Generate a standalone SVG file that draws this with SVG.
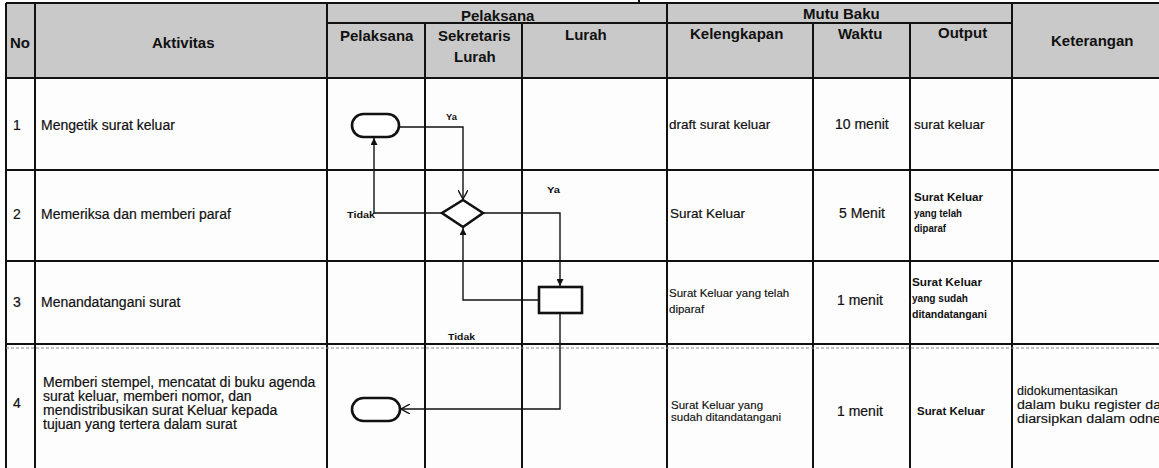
<svg xmlns="http://www.w3.org/2000/svg" width="1159" height="468" viewBox="0 0 1159 468">
  <style>
    .grid { stroke: #111; stroke-width: 2; fill: none; }
    .hd { font-family: "Liberation Sans", Arial, sans-serif; font-weight: bold; font-size: 15px; fill: #111; }
    .tx { font-family: "Liberation Sans", Arial, sans-serif; font-size: 14px; fill: #111; stroke: #111; stroke-width: 0.2; }
    .md { font-family: "Liberation Sans", Arial, sans-serif; font-size: 13.5px; fill: #111; stroke: #111; stroke-width: 0.2; }
    .sm { font-family: "Liberation Sans", Arial, sans-serif; font-size: 11.5px; fill: #111; stroke: #111; stroke-width: 0.15; }
    .ket { font-family: "Liberation Sans", Arial, sans-serif; font-size: 12.5px; fill: #111; stroke: #111; stroke-width: 0.15; }
    .out { font-family: "Liberation Sans", Arial, sans-serif; font-size: 11px; font-weight: bold; fill: #111; }
    .lbl { font-family: "Liberation Sans", Arial, sans-serif; font-size: 9.5px; font-weight: bold; fill: #111; }
    .shape { fill: #fff; stroke: #111; stroke-width: 2.6; }
    .conn { fill: none; stroke: #111; stroke-width: 1.4; }
  </style>
  <defs>
    <marker id="solid" viewBox="0 0 8 8" refX="8" refY="4" markerWidth="7" markerHeight="7" markerUnits="userSpaceOnUse" orient="auto">
      <path d="M0,0 L8,4 L0,8 Z" fill="#111"/>
    </marker>
    <marker id="open" viewBox="0 0 10 10" refX="9" refY="5" markerWidth="10" markerHeight="10" markerUnits="userSpaceOnUse" orient="auto">
      <path d="M0,0 L9,5 L0,10" fill="none" stroke="#111" stroke-width="1.4"/>
    </marker>
  </defs>

  <!-- page -->
  <rect x="0" y="0" width="1159" height="468" fill="#fdfdfd"/>
  <!-- header band -->
  <rect x="6" y="3" width="1153" height="76" fill="#c9c9c9"/>

  <!-- table grid -->
  <g id="table" class="grid">
    <line x1="6" y1="3" x2="1159" y2="3"/>
    <line x1="327" y1="23" x2="1012" y2="23"/>
    <line x1="6" y1="78" x2="1159" y2="78"/>
    <line x1="6" y1="170" x2="1159" y2="170"/>
    <line x1="6" y1="261" x2="1159" y2="261"/>
    <line x1="6" y1="344" x2="1159" y2="344"/>
    <line x1="6" y1="3" x2="6" y2="468"/>
    <line x1="35" y1="3" x2="35" y2="468"/>
    <line x1="327" y1="3" x2="327" y2="468"/>
    <line x1="425" y1="23" x2="425" y2="468"/>
    <line x1="522" y1="23" x2="522" y2="468"/>
    <line x1="667" y1="3" x2="667" y2="468"/>
    <line x1="813" y1="23" x2="813" y2="468"/>
    <line x1="910" y1="23" x2="910" y2="468"/>
    <line x1="1012" y1="3" x2="1012" y2="468"/>
    <line x1="639" y1="0" x2="639" y2="3"/>
  </g>
  <line x1="6" y1="348" x2="1159" y2="348" stroke="#8a8a8a" stroke-width="1" stroke-dasharray="3 2"/>

  <!-- header labels -->
  <g id="header">
    <text class="hd" x="10" y="48">No</text>
    <text class="hd" x="152" y="48">Aktivitas</text>
    <text class="hd" x="461" y="21">Pelaksana</text>
    <text class="hd" x="340" y="41">Pelaksana</text>
    <text class="hd" x="438" y="41">Sekretaris</text>
    <text class="hd" x="454" y="62">Lurah</text>
    <text class="hd" x="565" y="40">Lurah</text>
    <text class="hd" x="803" y="19">Mutu Baku</text>
    <text class="hd" x="690" y="39">Kelengkapan</text>
    <text class="hd" x="838" y="39">Waktu</text>
    <text class="hd" x="938" y="38">Output</text>
    <text class="hd" x="1051" y="46">Keterangan</text>
  </g>

  <!-- row 1 -->
  <g id="row1">
    <text class="tx" x="13" y="130">1</text>
    <text class="tx" x="41" y="130">Mengetik  surat keluar</text>
    <text class="md" x="669" y="129">draft surat keluar</text>
    <text class="tx" x="835" y="129">10 menit</text>
    <text class="md" x="914" y="129">surat keluar</text>
  </g>

  <!-- row 2 -->
  <g id="row2">
    <text class="tx" x="13" y="219">2</text>
    <text class="tx" x="41" y="219">Memeriksa dan memberi paraf</text>
    <text class="md" x="670" y="218">Surat Keluar</text>
    <text class="tx" x="839" y="218">5 Menit</text>
    <text class="out" x="914" y="201" textLength="69" lengthAdjust="spacingAndGlyphs">Surat Keluar</text>
    <text class="out" x="914" y="217" textLength="48" lengthAdjust="spacingAndGlyphs">yang telah</text>
    <text class="out" x="914" y="232" textLength="32" lengthAdjust="spacingAndGlyphs">diparaf</text>
  </g>

  <!-- row 3 -->
  <g id="row3">
    <text class="tx" x="13" y="307">3</text>
    <text class="tx" x="41" y="307">Menandatangani surat</text>
    <text class="sm" x="669" y="297">Surat Keluar yang telah</text>
    <text class="sm" x="669" y="313">diparaf</text>
    <text class="tx" x="837" y="305">1 menit</text>
    <text class="out" x="912" y="286" textLength="70" lengthAdjust="spacingAndGlyphs">Surat Keluar</text>
    <text class="out" x="912" y="302" textLength="56" lengthAdjust="spacingAndGlyphs">yang sudah</text>
    <text class="out" x="912" y="318" textLength="75" lengthAdjust="spacingAndGlyphs">ditandatangani</text>
  </g>

  <!-- row 4 -->
  <g id="row4">
    <text class="tx" x="13" y="408">4</text>
    <text class="tx" x="43" y="387">Memberi stempel, mencatat di buku agenda</text>
    <text class="tx" x="43" y="401">surat keluar, memberi nomor, dan</text>
    <text class="tx" x="43" y="415">mendistribusikan  surat Keluar kepada</text>
    <text class="tx" x="43" y="429">tujuan yang tertera dalam surat</text>
    <text class="sm" x="671" y="409">Surat Keluar  yang</text>
    <text class="sm" x="671" y="421">sudah ditandatangani</text>
    <text class="tx" x="837" y="416">1 menit</text>
    <text class="out" x="917" y="415" textLength="68" lengthAdjust="spacingAndGlyphs">Surat Keluar</text>
    <text class="ket" x="1017" y="395">didokumentasikan</text>
    <text class="ket" x="1017" y="409" textLength="144" lengthAdjust="spacingAndGlyphs">dalam buku register da</text>
    <text class="ket" x="1017" y="423" textLength="144" lengthAdjust="spacingAndGlyphs">diarsipkan  dalam odne</text>
  </g>

  <!-- flow connectors -->
  <g id="connectors">
    <path class="conn" d="M399,127 H463 V199" marker-end="url(#open)"/>
    <path class="conn" d="M442,213 H374 V138" marker-end="url(#solid)"/>
    <path class="conn" d="M483,213 H560 V286" marker-end="url(#solid)"/>
    <path class="conn" d="M539,300 H463 V228" marker-end="url(#solid)"/>
    <path class="conn" d="M560,313 V409 H401" marker-end="url(#open)"/>
    <text class="lbl" x="446" y="120" textLength="11" lengthAdjust="spacingAndGlyphs">Ya</text>
    <text class="lbl" x="547" y="193" textLength="13" lengthAdjust="spacingAndGlyphs">Ya</text>
    <text class="lbl" x="347" y="218" textLength="28" lengthAdjust="spacingAndGlyphs">Tidak</text>
    <text class="lbl" x="448" y="340" textLength="27" lengthAdjust="spacingAndGlyphs">Tidak</text>
  </g>

  <!-- flow nodes -->
  <g id="start">
    <rect class="shape" x="352" y="114" width="47" height="23" rx="11.5"/>
  </g>
  <g id="check">
    <polygon class="shape" points="463,200 483,213 463,227 442,213"/>
  </g>
  <g id="sign">
    <rect class="shape" x="539" y="287" width="43" height="26"/>
  </g>
  <g id="end">
    <rect class="shape" x="352" y="398" width="48" height="23" rx="11.5"/>
  </g>
</svg>
